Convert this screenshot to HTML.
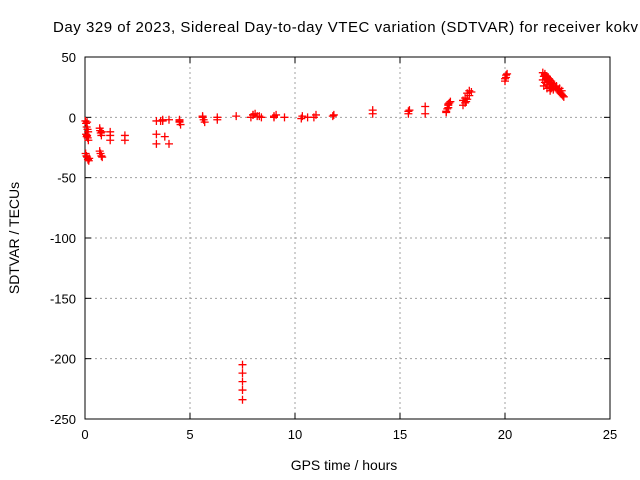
<!DOCTYPE html>
<html><head><meta charset="utf-8"><style>
body{margin:0;background:#fff;}
svg{display:block;font-family:"Liberation Sans",sans-serif;}
</style></head><body>
<svg id="c" width="640" height="480"></svg>
<script>
const xTicks=[0,5,10,15,20,25];
const yTicks=[50,0,-50,-100,-150,-200,-250];
const hours=[0.02,0.05,0.08,0.1,0.12,0.15,0.05,0.08,0.1,0.13,0.16,0.03,0.07,0.1,0.14,0.18,0.2,
0.7,0.72,0.75,0.78,0.8,0.7,0.74,0.78,0.82,1.2,1.2,1.2,1.9,1.9,
3.4,3.4,3.4,3.6,3.7,3.8,3.7,4.0,4.0,4.5,4.5,4.55,4.5,
5.6,5.65,5.7,5.6,6.3,6.3,7.2,7.9,8.0,8.1,8.2,8.4,8.0,8.3,9.0,9.1,9.0,9.5,10.3,10.35,10.6,10.9,11.0,11.8,11.85,
13.7,13.7,15.4,15.45,15.4,16.2,16.2,17.2,17.25,17.3,17.35,17.4,17.3,17.2,17.3,
18.0,18.1,18.2,18.3,18.4,18.0,18.1,18.2,18.3,18.15,
20.0,20.05,20.1,20.0,20.05,
21.8,21.9,22.0,22.1,22.2,22.3,22.4,21.85,21.95,22.05,22.15,22.25,21.9,22.0,22.1,22.2,22.3,
21.8,21.9,22.0,22.1,22.2,22.3,21.85,22.0,22.15,
22.4,22.5,22.6,22.7,22.8,22.55,22.65,22.75,22.45,22.6,22.7,
7.5,7.5,7.5,7.5,7.5];
const values=[-3,-5,-8,-4,-10,-12,-14,-16,-15,-17,-19,-30,-32,-33,-35,-36,-34,
-9,-11,-13,-15,-12,-28,-30,-32,-33,-12,-15,-19,-15,-19,
-3,-14,-22,-3,-2,-16,-3,-2,-22,-2,-4,-6,-3,
0,-2,-4,1,0,-2,1,0,2,3,1,0,2,1,0,2,1,0,-1,1,0,0,2,1,2,
3,6,3,6,5,3,9,4,7,10,12,13,8,5,11,
10,12,15,18,21,14,16,20,22,13,
30,33,36,32,35,
37,35,33,31,29,27,25,34,32,30,28,26,36,34,32,30,28,
31,29,27,25,24,23,26,24,22,
25,23,21,19,17,22,20,18,26,24,22,
-205,-212,-219,-226,-234];
const L=85,R=610,T=57,B=419;
const X=v=>L+(v-0)/25*(R-L);
const Y=v=>T+(50-v)/300*(B-T);
const s=document.getElementById('c');const NS='http://www.w3.org/2000/svg';
function mk(t,a,p){const e=document.createElementNS(NS,t);for(const k in a)e.setAttribute(k,a[k]);(p||s).appendChild(e);return e;}
xTicks.forEach(v=>{
 if(v>0&&v<25){const g=mk('line',{x1:X(v),x2:X(v),y1:T,y2:B,stroke:'#a0a0a0','stroke-dasharray':'2,3'});
 
 }
 mk('line',{x1:X(v),x2:X(v),y1:B,y2:B-6,stroke:'#000'});mk('line',{x1:X(v),x2:X(v),y1:T,y2:T+6,stroke:'#000'});
 const t=mk('text',{x:X(v),y:B+20,'text-anchor':'middle','font-size':13});t.textContent=v;
 
 
});
yTicks.forEach(v=>{
 if(v<50&&v>-250){const g=mk('line',{x1:L,x2:R,y1:Y(v),y2:Y(v),stroke:'#a0a0a0','stroke-dasharray':'2,3'});
 
 }
 mk('line',{x1:L,x2:L+6,y1:Y(v),y2:Y(v),stroke:'#000'});mk('line',{x1:R,x2:R-6,y1:Y(v),y2:Y(v),stroke:'#000'});
 const t=mk('text',{x:L-9,y:Y(v)+5,'text-anchor':'end','font-size':13});t.textContent=v;
 
 
});
const fr=mk('rect',{x:L,y:T,width:R-L,height:B-T,fill:'none',stroke:'#000'});


hours.forEach((h,i)=>{
 const x=X(h),y=Y(values[i]);
 const p=mk('path',{d:`M${x-4} ${y}H${x+4}M${x} ${y-4}V${y+4}`,stroke:'#ff0000','stroke-width':1.3,fill:'none'});
 
 
});
const tt=mk('text',{x:53,y:32,'font-size':15,textLength:585,lengthAdjust:'spacing'});tt.textContent='Day 329 of 2023, Sidereal Day-to-day VTEC variation (SDTVAR) for receiver kokv';


const xl=mk('text',{x:344,y:470,'text-anchor':'middle','font-size':14});xl.textContent='GPS time / hours';


const yl=mk('text',{x:19,y:238,'text-anchor':'middle','font-size':14,transform:'rotate(-90 19 238)'});yl.textContent='SDTVAR / TECUs';


</script>
</body></html>
